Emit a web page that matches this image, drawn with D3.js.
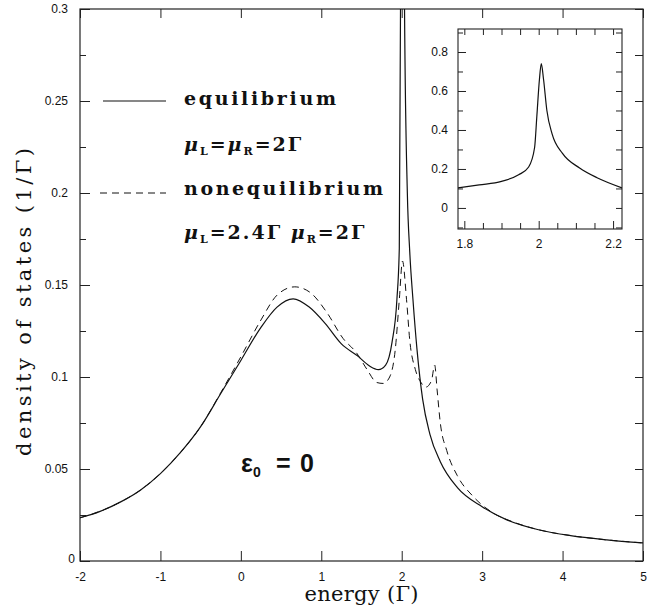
<!DOCTYPE html>
<html>
<head>
<meta charset="utf-8">
<script src="https://cdn.jsdelivr.net/npm/d3@7"></script>
<style>
  body { margin: 0; background: #fff; }
  svg { display: block; }
  .tick text { font-family: "Liberation Sans", Arial, sans-serif; font-size: 12px; fill: #111; }
  .tick line { stroke: #222; }
</style>
</head>
<body>
<div id="chart"></div>
<script>
// equilibrium curve, mu_L = mu_R = 2 Gamma
const energyEq = [-2.0, -1.75, -1.5, -1.25, -1.0, -0.75, -0.5, -0.25, 0.0, 0.25, 0.45, 0.65, 0.85, 1.05, 1.25,
    1.45, 1.6, 1.71, 1.8, 1.88, 1.94, 1.97, 1.985, 1.995, 2.005, 2.015, 2.035, 2.07, 2.1, 2.14, 2.19,
    2.26, 2.35, 2.48, 2.69, 3.0, 3.3, 3.7, 4.1, 4.55, 5.0];
const dosEq = [0.0235, 0.027, 0.032, 0.0385, 0.0475, 0.059, 0.073, 0.091, 0.109, 0.127, 0.138, 0.1425, 0.138, 0.129, 0.118,
    0.1115, 0.106, 0.104, 0.1065, 0.119, 0.142, 0.17, 0.30, 0.5, 0.74, 0.55, 0.30, 0.2, 0.168, 0.142, 0.115,
    0.088, 0.069, 0.054, 0.040, 0.0295, 0.0225, 0.017, 0.0138, 0.0115, 0.0098];

// nonequilibrium curve, mu_L = 2.4 Gamma, mu_R = 2 Gamma
const energyNoneq = [-2.0, -1.75, -1.5, -1.25, -1.0, -0.75, -0.5, -0.25, 0.0, 0.25, 0.45, 0.67, 0.86, 1.07, 1.27,
    1.44, 1.57, 1.69, 1.77, 1.85, 1.92, 1.97, 2.01, 2.06, 2.1, 2.17, 2.24, 2.3, 2.37, 2.41, 2.44,
    2.48, 2.56, 2.69, 2.89, 3.14, 3.4, 3.7, 4.1, 4.55, 5.0];
const dosNoneq = [0.0235, 0.027, 0.032, 0.0385, 0.0475, 0.059, 0.073, 0.0915, 0.111, 0.131, 0.1445, 0.149, 0.146, 0.135, 0.121,
    0.113, 0.104, 0.097, 0.0965, 0.100, 0.115, 0.142, 0.163, 0.142, 0.120, 0.104, 0.097, 0.0945, 0.098, 0.1065, 0.093,
    0.075, 0.060, 0.0465, 0.035, 0.026, 0.021, 0.017, 0.0138, 0.0115, 0.0098];

// inset: equilibrium peak close to 2 Gamma
const insetEnergy = [1.783, 1.84, 1.9, 1.946, 1.973, 1.989, 1.995, 2.002, 2.007, 2.013, 2.022, 2.036, 2.064, 2.11, 2.157, 2.224];
const insetDos = [0.103, 0.118, 0.136, 0.17, 0.21, 0.31, 0.47, 0.66, 0.74, 0.66, 0.50, 0.38, 0.28, 0.205, 0.155, 0.103];

const xTicks = [-2, -1, 0, 1, 2, 3, 4, 5];
const yTicks = [0, 0.05, 0.1, 0.15, 0.2, 0.25, 0.3];
const yMinorTicks = [0.025, 0.075, 0.125, 0.175, 0.225, 0.275];
const insetXTicks = [1.8, 2, 2.2];
const insetXMinorTicks = [1.85, 1.9, 1.95, 2.05, 2.1, 2.15];
const insetYTicks = [0, 0.2, 0.4, 0.6, 0.8];
const insetYMinorTicks = [-0.1, 0.1, 0.3, 0.5, 0.7, 0.9];

const W = 656, H = 610;
const plot = {left: 80, top: 9, right: 643, bottom: 561};
const inset = {left: 458, top: 29, right: 622, bottom: 229};

const svg = d3.select("#chart").append("svg")
    .attr("width", W)
    .attr("height", H);

const x = d3.scaleLinear().domain([-2, 5]).range([plot.left, plot.right]);
const y = d3.scaleLinear().domain([0, 0.3]).range([plot.bottom, plot.top]);

svg.append("clipPath").attr("id", "clip-main")
    .append("rect")
    .attr("x", plot.left).attr("y", plot.top)
    .attr("width", plot.right - plot.left).attr("height", plot.bottom - plot.top);

// axes: ticks point into the frame
function noLabels() { return ""; }

svg.append("g")
    .attr("transform", `translate(${plot.left},0)`)
    .call(d3.axisLeft(y).tickValues(yTicks).tickSize(-10).tickPadding(12).tickFormat(d => String(d)))
    .call(g => g.selectAll(".tick text").filter(d => d === 0).attr("x", -5).attr("dy", "0.1em"))
    .call(g => g.select(".domain").remove());

svg.append("g")
    .attr("transform", `translate(${plot.left},0)`)
    .call(d3.axisLeft(y).tickValues(yMinorTicks).tickSize(-6).tickFormat(noLabels))
    .call(g => g.select(".domain").remove());

svg.append("g")
    .attr("transform", `translate(${plot.right},0)`)
    .call(d3.axisRight(y).tickValues(yTicks.concat(yMinorTicks)).tickSize(-8).tickFormat(noLabels))
    .call(g => g.select(".domain").remove());

svg.append("g")
    .attr("transform", `translate(0,${plot.bottom})`)
    .call(d3.axisBottom(x).tickValues(xTicks).tickSize(-10).tickPadding(11).tickFormat(d => String(d)))
    .call(g => g.select(".domain").remove());

svg.append("g")
    .attr("transform", `translate(0,${plot.top})`)
    .call(d3.axisTop(x).tickValues(xTicks).tickSize(-9).tickFormat(noLabels))
    .call(g => g.select(".domain").remove());

svg.append("rect")
    .attr("x", plot.left).attr("y", plot.top)
    .attr("width", plot.right - plot.left).attr("height", plot.bottom - plot.top)
    .attr("fill", "none")
    .attr("stroke", "#222")
    .attr("stroke-width", 1.2);

// curves
const line = d3.line()
    .x(d => x(d[0]))
    .y(d => y(d[1]))
    .curve(d3.curveMonotoneX);

svg.append("path")
    .datum(d3.zip(energyNoneq, dosNoneq))
    .attr("clip-path", "url(#clip-main)")
    .attr("fill", "none")
    .attr("stroke", "#111")
    .attr("stroke-width", 1)
    .attr("stroke-dasharray", "7,5")
    .attr("d", line);

svg.append("path")
    .datum(d3.zip(energyEq, dosEq))
    .attr("clip-path", "url(#clip-main)")
    .attr("fill", "none")
    .attr("stroke", "#111")
    .attr("stroke-width", 1.2)
    .attr("d", line);

// axis titles
svg.append("text")
    .attr("x", (plot.left + plot.right) / 2)
    .attr("y", 601)
    .attr("text-anchor", "middle")
    .attr("textLength", 114)
    .attr("lengthAdjust", "spacing")
    .style("font-family", "'DejaVu Serif', serif")
    .style("font-size", "21px")
    .style("fill", "#111")
    .text("energy (Γ)");

svg.append("text")
    .attr("transform", `translate(31,302) rotate(-90)`)
    .attr("text-anchor", "middle")
    .attr("textLength", 308)
    .attr("lengthAdjust", "spacing")
    .style("font-family", "'DejaVu Serif', serif")
    .style("font-size", "21px")
    .style("fill", "#111")
    .text("density of states (1/Γ)");

// legend
const legendFont = "'DejaVu Serif', serif";

svg.append("line")
    .attr("x1", 103).attr("x2", 166)
    .attr("y1", y(0.25)).attr("y2", y(0.25))
    .attr("stroke", "#111").attr("stroke-width", 1.2);

svg.append("line")
    .attr("x1", 100).attr("x2", 166)
    .attr("y1", y(0.2)).attr("y2", y(0.2))
    .attr("stroke", "#111").attr("stroke-width", 1)
    .attr("stroke-dasharray", "7,5");

function boldLabel(txt, yPos, len) {
    svg.append("text")
        .attr("x", 184).attr("y", yPos)
        .attr("textLength", len)
        .attr("lengthAdjust", "spacing")
        .style("font-family", legendFont)
        .style("font-size", "19px")
        .style("font-weight", "bold")
        .style("fill", "#111")
        .text(txt);
}

function muLabel(parts, yPos) {
    const t = svg.append("text")
        .attr("x", 184).attr("y", yPos)
        .style("font-family", legendFont)
        .style("font-size", "19px")
        .style("font-weight", "bold")
        .style("letter-spacing", "2px")
        .style("fill", "#111");
    parts.forEach(p => {
        const ts = t.append("tspan").text(p.text);
        if (p.mu) ts.style("font-style", "italic");
        if (p.sub) ts.attr("dy", 4).style("font-size", "11px");
        if (p.up) ts.attr("dy", -4);
    });
}

boldLabel("equilibrium", 105, 152);
muLabel([
    {text: "μ", mu: true}, {text: "L", sub: true},
    {text: "=", up: true}, {text: "μ", mu: true}, {text: "R", sub: true},
    {text: "=2Γ", up: true}
], 151);
boldLabel("nonequilibrium", 195, 199);
muLabel([
    {text: "μ", mu: true}, {text: "L", sub: true},
    {text: "=2.4Γ ", up: true}, {text: "μ", mu: true}, {text: "R", sub: true},
    {text: "=2Γ", up: true}
], 239);

// epsilon_0 = 0
const eps = svg.append("text")
    .attr("x", 241).attr("y", 472)
    .style("font-family", "'Liberation Sans', Arial, sans-serif")
    .style("font-size", "25px")
    .style("font-weight", "bold")
    .style("fill", "#111");
eps.append("tspan").text("ε");
eps.append("tspan").attr("dy", 5).style("font-size", "14px").text("0");
eps.append("tspan").attr("x", 276).attr("dy", -5).text("=");
eps.append("tspan").attr("x", 300).text("0");

// inset
const xi = d3.scaleLinear().domain([1.783, 2.224]).range([inset.left, inset.right]);
const yi = d3.scaleLinear().domain([-0.108, 0.918]).range([inset.bottom, inset.top]);

svg.append("rect")
    .attr("x", inset.left).attr("y", inset.top)
    .attr("width", inset.right - inset.left).attr("height", inset.bottom - inset.top)
    .attr("fill", "#fff");

svg.append("clipPath").attr("id", "clip-inset")
    .append("rect")
    .attr("x", inset.left).attr("y", inset.top)
    .attr("width", inset.right - inset.left).attr("height", inset.bottom - inset.top);

svg.append("g")
    .attr("transform", `translate(${inset.left},0)`)
    .call(d3.axisLeft(yi).tickValues(insetYTicks).tickSize(-8).tickPadding(10).tickFormat(d => String(d)))
    .call(g => g.select(".domain").remove());

svg.append("g")
    .attr("transform", `translate(${inset.left},0)`)
    .call(d3.axisLeft(yi).tickValues(insetYMinorTicks).tickSize(-5).tickFormat(noLabels))
    .call(g => g.select(".domain").remove());

svg.append("g")
    .attr("transform", `translate(${inset.right},0)`)
    .call(d3.axisRight(yi).tickValues(insetYTicks.concat(insetYMinorTicks)).tickSize(-6).tickFormat(noLabels))
    .call(g => g.select(".domain").remove());

svg.append("g")
    .attr("transform", `translate(0,${inset.bottom})`)
    .call(d3.axisBottom(xi).tickValues(insetXTicks).tickSize(-8).tickPadding(10).tickFormat(d => String(d)))
    .call(g => g.select(".domain").remove());

svg.append("g")
    .attr("transform", `translate(0,${inset.bottom})`)
    .call(d3.axisBottom(xi).tickValues(insetXMinorTicks).tickSize(-6).tickFormat(noLabels))
    .call(g => g.select(".domain").remove());

svg.append("g")
    .attr("transform", `translate(0,${inset.top})`)
    .call(d3.axisTop(xi).tickValues(insetXTicks.concat(insetXMinorTicks)).tickSize(-6).tickFormat(noLabels))
    .call(g => g.select(".domain").remove());

svg.append("rect")
    .attr("x", inset.left).attr("y", inset.top)
    .attr("width", inset.right - inset.left).attr("height", inset.bottom - inset.top)
    .attr("fill", "none")
    .attr("stroke", "#222")
    .attr("stroke-width", 1.1);

const insetLine = d3.line()
    .x(d => xi(d[0]))
    .y(d => yi(d[1]))
    .curve(d3.curveMonotoneX);

svg.append("path")
    .datum(d3.zip(insetEnergy, insetDos))
    .attr("clip-path", "url(#clip-inset)")
    .attr("fill", "none")
    .attr("stroke", "#111")
    .attr("stroke-width", 1.2)
    .attr("d", insetLine);
</script>
</body>
</html>
